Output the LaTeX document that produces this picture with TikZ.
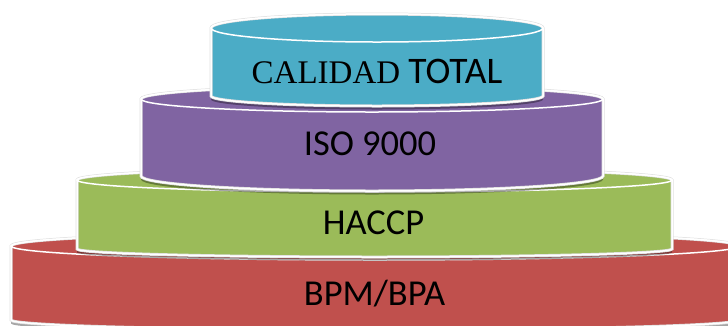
\documentclass[tikz,border=0pt]{standalone}
\usepackage{fontspec}
\setmainfont{Carlito}
\newfontfamily\timesf{Liberation Serif}
\definecolor{cTeal}{HTML}{4BACC6}
\definecolor{cPurple}{HTML}{8064A2}
\definecolor{cGreen}{HTML}{9BBB59}
\definecolor{cRed}{HTML}{C0504D}
% #1 cx, #2 rx, #3 ytop, #4 rtop, #5 ybot, #6 rbot, #7 colour
\newcommand\drawcan[7]{%
  \path[fill=black,opacity=.35]
    ({#1-#2},{-#3-3}) -- ({#1-#2},{-#5-3.5})
    arc[start angle=180,end angle=360,x radius=#2pt,y radius=#6pt]
    -- ({#1+#2},{-#3-3})
    arc[start angle=0,end angle=180,x radius=#2pt,y radius=#4pt] -- cycle;
  \path[draw=black!12,line width=3pt,fill=#7]
    ({#1-#2},{-#3}) -- ({#1-#2},{-#5})
    arc[start angle=180,end angle=360,x radius=#2pt,y radius=#6pt]
    -- ({#1+#2},{-#3})
    arc[start angle=0,end angle=180,x radius=#2pt,y radius=#4pt] -- cycle;
  \path[draw=white,line width=1.5pt]
    ({#1-#2},{-#3}) -- ({#1-#2},{-#5})
    arc[start angle=180,end angle=360,x radius=#2pt,y radius=#6pt]
    -- ({#1+#2},{-#3})
    arc[start angle=0,end angle=180,x radius=#2pt,y radius=#4pt] -- cycle;
  \draw[white,line width=1.5pt] (#1,{-#3}) ellipse[x radius=#2pt,y radius=#4pt];
}
\tikzset{lbl/.style={anchor=base,text=black,font=\fontsize{36.5}{40}\selectfont,inner sep=0pt}}
\begin{document}
\begin{tikzpicture}[x=1pt,y=1pt]
\path[use as bounding box] (0,0) rectangle (728,-325);
\clip (0,0) rectangle (728,-325);
\drawcan{375}{364}{246}{14}{320}{10}{cRed}
\drawcan{374.5}{297.5}{180}{12}{249}{8}{cGreen}
\drawcan{372}{231}{99}{13}{176}{15}{cPurple}
\drawcan{377}{166}{28}{14}{96}{10}{cTeal}
\node[lbl] (bpm) at (374.5,-305) {BPM/BPA};
\node[lbl] (haccp) at (373.5,-234) {HACCP};
\node[lbl] (iso) at (370,-155) {ISO 9000};
\node[lbl] (cal) at (377,-83) {{\timesf\fontsize{33}{36}\selectfont CALIDAD} {\fontsize{37.5}{40}\selectfont TOTAL}};
\end{tikzpicture}
\end{document}
